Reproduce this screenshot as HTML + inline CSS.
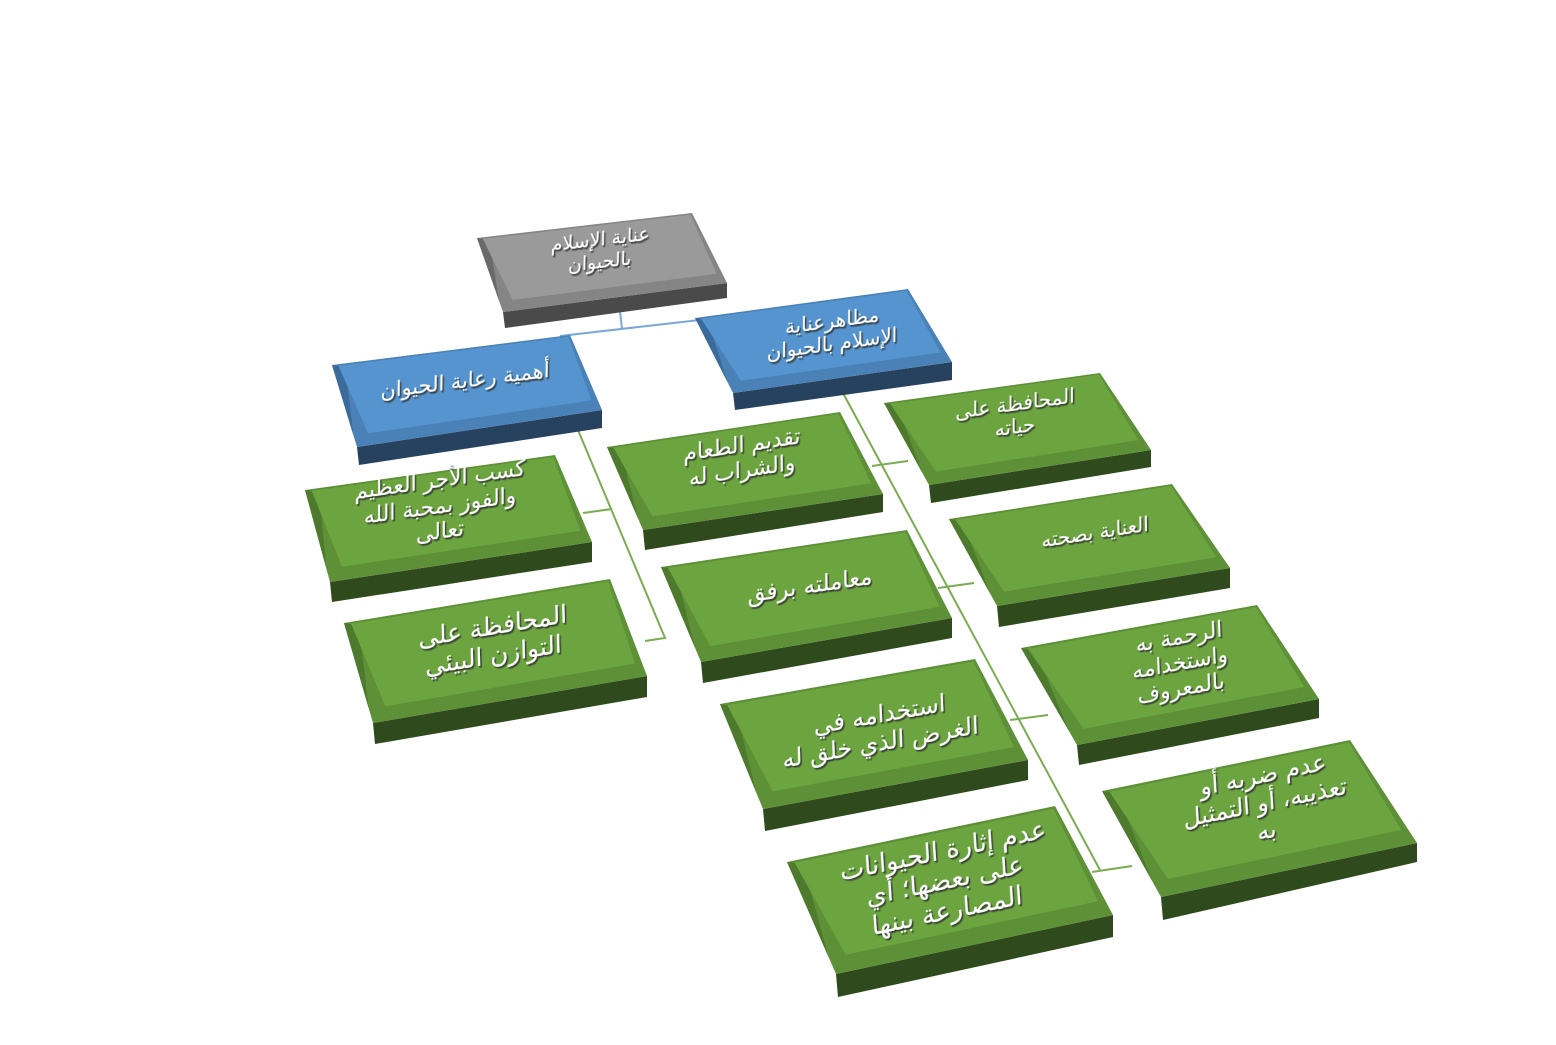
<!DOCTYPE html>
<html><head><meta charset="utf-8">
<style>
html,body{margin:0;padding:0;background:#fff;width:1556px;height:1045px;overflow:hidden}
svg{display:block}
text{font-family:"DejaVu Sans","Liberation Sans",sans-serif;fill:#fff;font-weight:normal;direction:rtl}
</style></head>
<body>
<svg id="s" width="1556" height="1045" viewBox="0 0 1556 1045" xmlns="http://www.w3.org/2000/svg">
<defs>
<filter id="sh" x="-20%" y="-20%" width="140%" height="140%"><feDropShadow dx="1.5" dy="2" stdDeviation="0.6" flood-color="#333" flood-opacity="0.9"/></filter>
</defs>
<g stroke="#7aa7d6" stroke-width="2" fill="none">
<polyline points="620,312 622,328"/>
<polyline points="560,336 700,320"/>
</g>
<g stroke="#79ad4f" stroke-width="2" fill="none">
<polyline points="578,430 665,638 645,641"/>
<polyline points="583,513 612,509"/>
<polyline points="843,393 1100,870"/>
<polyline points="872,466 908,461"/>
<polyline points="938,588 974,583"/>
<polyline points="1010,720 1048,715"/>
<polyline points="1092,872 1132,866"/>
</g>
<g id="boxes"></g>
</svg>
<script>
var B=[
[[477,238],[692,213],[727,283],[503,312],328,298,'g',["عناية الإسلام","بالحيوان"],19,[600,250]],
[[332,365],[570,335],[602,410],[357,447],465,428,'b',["أهمية رعاية الحيوان"],21,[465,380]],
[[695,318],[908,289],[952,362],[733,393],410,380,'b',["مظاهرعناية","الإسلام بالحيوان"],20,[832,332]],
[[884,403],[1100,373],[1151,450],[929,485],503,467,'n',["المحافظة على","حياته"],20,[1015,415]],
[[607,447],[840,412],[883,494],[643,530],550,512,'n',["تقديم الطعام","والشراب له"],22,[742,457]],
[[305,490],[555,455],[592,542],[330,582],602,562,'n',["كسب الأجر العظيم","والفوز بمحبة الله","تعالى"],22,[440,505]],
[[949,519],[1172,484],[1230,568],[997,606],627,588,'n',["العناية بصحته"],20,[1095,532]],
[[661,567],[907,530],[952,618],[701,662],683,638,'n',["معاملته برفق"],23,[810,585]],
[[344,623],[610,579],[647,676],[373,723],744,697,'n',["المحافظة على","التوازن البيئي"],25,[493,640]],
[[1021,648],[1257,605],[1319,699],[1077,745],765,718,'n',["الرحمة به","واستخدامه","بالمعروف"],22,[1180,662]],
[[720,704],[975,659],[1028,760],[763,809],831,780,'n',["استخدامه في","الغرض الذي خلق له"],24,[880,728]],
[[1102,791],[1350,740],[1417,843],[1161,897],920,862,'n',["عدم ضربه أو","تعذيبه، أو التمثيل","به"],24,[1265,802]],
[[787,862],[1055,806],[1113,915],[836,974],997,937,'n',["عدم إثارة الحيوانات","على بعضها؛ أي","المصارعة بينها"],26,[945,880]]
];
var C={g:{top:'#9a9a9a',bev:'#858585',left:'#6a6a6a',front:'#4a4a4a'},
b:{top:'#5594ce',bev:'#4a82b8',left:'#3a6b9b',front:'#27425f'},
n:{top:'#6ca540',bev:'#5e9137',left:'#4d7a2d',front:'#2f4a1c'}};
var g=document.getElementById('boxes'),out='';
function P(a){return a.map(function(p){return p[0].toFixed(1)+','+p[1].toFixed(1)}).join(' ')}
function L(a,b,t){return [a[0]+(b[0]-a[0])*t,a[1]+(b[1]-a[1])*t]}
B.forEach(function(b){
 var TL=b[0],TR=b[1],BR=b[2],BL=b[3],c=C[b[6]];
 var fBL=[BL[0]+2,b[4]],fBR=[BR[0],b[5]];
 out+='<polygon points="'+P([BL,BR,fBR,fBL])+'" fill="'+c.front+'"/>';
 out+='<polygon points="'+P([TL,TR,BR,BL])+'" fill="'+c.bev+'"/>';
 out+='<polygon points="'+P([TL,L(TL,BL,0.85),L(TL,BR,0.05),TL])+'" fill="'+c.left+'"/>';
 var iTL=L(L(TL,TR,0.025),L(BL,BR,0.025),0.02),iTR=L(L(TL,TR,0.99),L(BL,BR,0.99),0.02),
     iBR=L(L(TL,TR,0.975),L(BL,BR,0.975),0.86),iBL=L(L(TL,TR,0.06),L(BL,BR,0.06),0.86);
 out+='<polygon points="'+P([iTL,iTR,iBR,iBL])+'" fill="'+c.top+'"/>';
 var ang=Math.atan2(TR[1]-TL[1],TR[0]-TL[0])*180/Math.PI;
 var n=b[7].length,sz=b[8],lh=sz*1.15,cx=b[9][0],cy=b[9][1];
 out+='<g transform="translate('+cx+','+cy+') rotate('+ang.toFixed(2)+') skewX(-8)" filter="url(#sh)">';
 b[7].forEach(function(t,i){
  var y=(i-(n-1)/2)*lh+sz*0.35;
  out+='<text x="0" y="'+y.toFixed(1)+'" text-anchor="middle" font-size="'+sz+'">'+t+'</text>';
 });
 out+='</g>';
});
g.innerHTML=out;
</script>
</body></html>
